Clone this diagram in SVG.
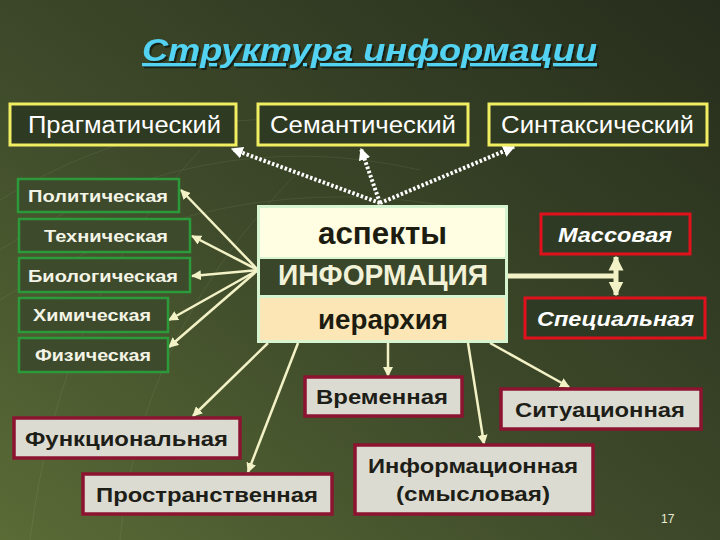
<svg xmlns="http://www.w3.org/2000/svg" width="720" height="540" viewBox="0 0 720 540">
<defs>
<linearGradient id="bg" x1="0" y1="1" x2="1" y2="0">
<stop offset="0" stop-color="#5a6b36"/>
<stop offset="0.45" stop-color="#3e4a2a"/>
<stop offset="1" stop-color="#262d1c"/>
</linearGradient>
<filter id="sh" x="-5%" y="-20%" width="110%" height="140%">
<feDropShadow dx="2" dy="2" stdDeviation="0.6" flood-color="#10180a" flood-opacity="0.8"/>
</filter>
<marker id="ah" viewBox="0 0 10 10" refX="9" refY="5" markerWidth="4" markerHeight="4" orient="auto-start-reverse" markerUnits="strokeWidth">
<path d="M0,0 L10,5 L0,10 Z" fill="#f3f2c6"/>
</marker>
<marker id="ahs" viewBox="0 0 10 10" refX="9" refY="5" markerWidth="3" markerHeight="3.4" orient="auto-start-reverse" markerUnits="strokeWidth">
<path d="M0,0 L10,5 L0,10 Z" fill="#f3f2c6"/>
</marker>
<marker id="ad" viewBox="0 0 10 10" refX="9" refY="5" markerWidth="3" markerHeight="3" orient="auto" markerUnits="strokeWidth">
<path d="M0,0 L10,5 L0,10 Z" fill="#ffffff"/>
</marker>
</defs>
<style>
.t{font-family:"Liberation Sans",Arial,sans-serif;}
.top rect{fill:#2f3a22;stroke:#f2ee62;stroke-width:3;}
.top text{fill:#ffffff;font-size:23px;}
.grn rect{fill:#3d4a2c;stroke:#2c9a3a;stroke-width:2.5;}
.grn text{fill:#f4f4e6;font-size:17px;font-weight:bold;}
.red rect{fill:#2e3a24;stroke:#e0101c;stroke-width:3;}
.red text{fill:#ffffff;font-size:21px;font-weight:bold;font-style:italic;}
.bot rect{fill:#dcdbd2;stroke:#8c1430;stroke-width:3.5;}
.bot text{fill:#1e1e18;font-size:20px;font-weight:bold;}
.ln{stroke:#f3f2c6;stroke-width:2.5;fill:none;}
.dt{stroke:#ffffff;stroke-width:4;stroke-dasharray:2.5 2;fill:none;}
</style>
<rect width="720" height="540" fill="url(#bg)"/>
<g opacity="0.08" stroke="#d8e8c0" stroke-width="1" fill="none">
<path d="M0,250 Q200,120 420,170"/>
<path d="M0,300 Q220,160 470,210"/>
<path d="M30,540 Q60,300 200,150"/>
<path d="M120,540 Q140,330 300,170"/>
<path d="M0,200 Q180,90 380,130"/>
</g>

<g id="title" class="t">
<text x="142" y="61" textLength="455" lengthAdjust="spacingAndGlyphs" font-size="32" font-weight="bold" font-style="italic" fill="#52d2f2" text-decoration="underline" filter="url(#sh)">Структура информации</text>
</g>

<g id="connectors">
<path class="dt" d="M380,203 L232,149" marker-end="url(#ad)"/>
<path class="dt" d="M380,203 L361,149" marker-end="url(#ad)"/>
<path class="dt" d="M380,203 L514,147" marker-end="url(#ad)"/>
<path class="ln" d="M258,270 L181,190" marker-end="url(#ah)"/>
<path class="ln" d="M258,270 L192,236" marker-end="url(#ah)"/>
<path class="ln" d="M258,270 L192,276" marker-end="url(#ah)"/>
<path class="ln" d="M258,270 L169,320" marker-end="url(#ah)"/>
<path class="ln" d="M258,270 L169,347" marker-end="url(#ah)"/>
<path class="ln" d="M268,343 L193,416" marker-end="url(#ah)"/>
<path class="ln" d="M298,343 L248,472" marker-end="url(#ah)"/>
<path class="ln" d="M388,343 L388,376" marker-end="url(#ah)"/>
<path class="ln" d="M468,343 L484,444" marker-end="url(#ah)"/>
<path class="ln" d="M490,343 L569,387" marker-end="url(#ah)"/>
<path d="M508,276 L616,276" stroke="#f3f2c6" stroke-width="5" fill="none"/>
<path d="M616,257 L616,295" stroke="#f3f2c6" stroke-width="5" fill="none" marker-start="url(#ahs)" marker-end="url(#ahs)"/>
</g>

<g id="n-pragm" class="t top"><rect x="10" y="104" width="226" height="41"/><text x="28" y="133" textLength="193" lengthAdjust="spacingAndGlyphs">Прагматический</text></g>
<g id="n-sem" class="t top"><rect x="258" y="104" width="210" height="41"/><text x="270" y="133" textLength="186" lengthAdjust="spacingAndGlyphs">Семантический</text></g>
<g id="n-sint" class="t top"><rect x="489" y="104" width="218" height="41"/><text x="501" y="133" textLength="193" lengthAdjust="spacingAndGlyphs">Синтаксический</text></g>

<g id="n-polit" class="t grn"><rect x="18" y="179" width="161" height="33"/><text x="28" y="202" textLength="140" lengthAdjust="spacingAndGlyphs">Политическая</text></g>
<g id="n-tech" class="t grn"><rect x="19" y="219" width="171" height="33"/><text x="44" y="242" textLength="124" lengthAdjust="spacingAndGlyphs">Техническая</text></g>
<g id="n-bio" class="t grn"><rect x="19" y="258" width="171" height="34"/><text x="28" y="282" textLength="150" lengthAdjust="spacingAndGlyphs">Биологическая</text></g>
<g id="n-chem" class="t grn"><rect x="19" y="298" width="149" height="34"/><text x="33" y="321" textLength="118" lengthAdjust="spacingAndGlyphs">Химическая</text></g>
<g id="n-phys" class="t grn"><rect x="19" y="338" width="149" height="34"/><text x="35" y="361" textLength="116" lengthAdjust="spacingAndGlyphs">Физическая</text></g>

<g id="n-info" class="t">
<rect x="257" y="205" width="251" height="138" fill="#d6f4cf"/>
<rect x="260" y="208" width="245" height="49" fill="#fffde2"/>
<rect x="260" y="259" width="245" height="36" fill="#3a4629"/>
<rect x="260" y="298" width="245" height="42" fill="#fde6b6"/>
<text x="318" y="244" textLength="129" lengthAdjust="spacingAndGlyphs" font-size="31" font-weight="bold" fill="#1c1c10">аспекты</text>
<text x="278" y="285" textLength="210" lengthAdjust="spacingAndGlyphs" font-size="29" font-weight="bold" fill="#f2f2d8">ИНФОРМАЦИЯ</text>
<text x="318" y="329" textLength="130" lengthAdjust="spacingAndGlyphs" font-size="27" font-weight="bold" fill="#1c1c10">иерархия</text>
</g>

<g id="n-mass" class="t red"><rect x="541" y="214" width="149" height="40"/><text x="558" y="242" textLength="114" lengthAdjust="spacingAndGlyphs">Массовая</text></g>
<g id="n-spec" class="t red"><rect x="525" y="298" width="180" height="40"/><text x="537" y="326" textLength="157" lengthAdjust="spacingAndGlyphs">Специальная</text></g>

<g id="n-vrem" class="t bot"><rect x="305" y="377" width="157" height="39"/><text x="316" y="404" textLength="132" lengthAdjust="spacingAndGlyphs">Временная</text></g>
<g id="n-sit" class="t bot"><rect x="501" y="389" width="200" height="40"/><text x="515" y="417" textLength="170" lengthAdjust="spacingAndGlyphs">Ситуационная</text></g>
<g id="n-func" class="t bot"><rect x="14" y="418" width="226" height="40"/><text x="25" y="446" textLength="203" lengthAdjust="spacingAndGlyphs">Функциональная</text></g>
<g id="n-prost" class="t bot"><rect x="83" y="474" width="249" height="40"/><text x="96" y="502" textLength="222" lengthAdjust="spacingAndGlyphs">Пространственная</text></g>
<g id="n-infsm" class="t bot"><rect x="355" y="445" width="238" height="69"/><text x="368" y="473" textLength="210" lengthAdjust="spacingAndGlyphs">Информационная</text><text x="396" y="501" textLength="154" lengthAdjust="spacingAndGlyphs">(смысловая)</text></g>

<text class="t" x="661" y="523" font-size="12" fill="#e8ecd8">17</text>
</svg>
